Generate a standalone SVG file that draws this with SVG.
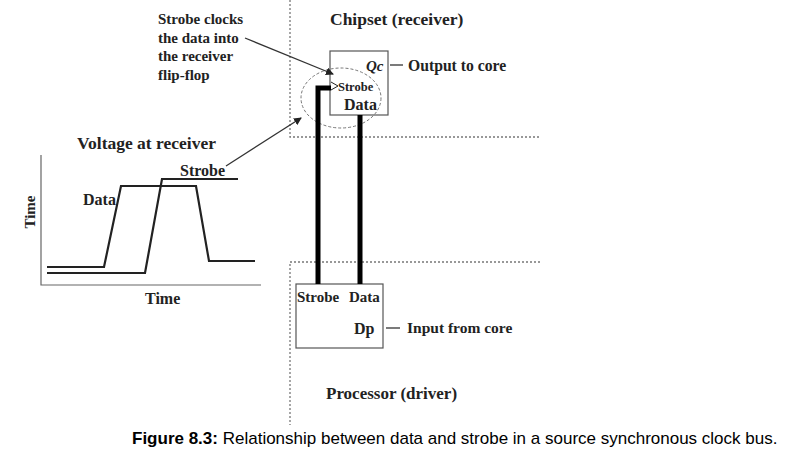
<svg xmlns="http://www.w3.org/2000/svg" width="792" height="452" viewBox="0 0 792 452">
<style>
.t{font-family:"Liberation Serif","Times New Roman",serif;font-weight:bold;fill:#222}
.dot{stroke:#777;stroke-width:1.3;stroke-dasharray:2,2;fill:none}
.ln{stroke:#333;stroke-width:1.3;fill:none}
.wave{stroke:#222;stroke-width:2.2;fill:none}
.thick{stroke:#000;stroke-width:5;fill:none}
.box{fill:#fff;stroke:#555;stroke-width:1.2}
.cap{font-family:"Liberation Sans",Arial,sans-serif;font-size:17px;fill:#000}
</style>
<defs>
<marker id="ah" markerWidth="8" markerHeight="8" refX="7" refY="4" orient="auto" markerUnits="userSpaceOnUse">
<path d="M0,0 L8,4 L0,8 z" fill="#222"/>
</marker>
</defs>
<rect width="792" height="452" fill="#fff"/>
<g id="regions">
<path class="dot" d="M290,0 V137 H540"/>
<path class="dot" d="M540,262 H290 V425"/>
</g>
<g id="chipset">
<text class="t" x="330" y="25" font-size="17.5">Chipset (receiver)</text>
<rect class="box" x="330" y="51" width="58" height="64"/>
<text class="t" x="366" y="71" font-size="15" font-style="italic">Qc</text>
<text class="t" x="338" y="91" font-size="12.5">Strobe</text>
<text class="t" x="344" y="110" font-size="16">Data</text>
<path d="M331,82 L338,86 L331,90" fill="none" stroke="#222" stroke-width="1"/>
<line class="ln" x1="390" y1="65" x2="403" y2="65"/>
<text class="t" x="408" y="71" font-size="15.7">Output to core</text>
<ellipse cx="341" cy="98" rx="40" ry="30" fill="none" stroke="#777" stroke-width="1" stroke-dasharray="3,2"/>
</g>
<g id="processor">
<rect class="box" x="296" y="284" width="87" height="64"/>
<text class="t" x="297" y="302" font-size="15">Strobe</text>
<text class="t" x="349" y="302" font-size="15">Data</text>
<text class="t" x="354" y="334" font-size="16">Dp</text>
<line class="ln" x1="386" y1="328" x2="400" y2="328"/>
<text class="t" x="407" y="333" font-size="15.5">Input from core</text>
<text class="t" x="326" y="399" font-size="17">Processor (driver)</text>
</g>
<g id="note">
<text class="t" font-size="15"><tspan x="158" y="24">Strobe clocks</tspan><tspan x="158" y="43">the data into</tspan><tspan x="158" y="61">the receiver</tspan><tspan x="158" y="80">flip-flop</tspan></text>
</g>
<g id="plot">
<text class="t" x="77" y="149" font-size="17.5">Voltage at receiver</text>
<path d="M41,155 V285 H261" fill="none" stroke="#666" stroke-width="1.2"/>
<text class="t" x="35" y="212" font-size="15" text-anchor="middle" transform="rotate(-90 35 212)">Time</text>
<text class="t" x="145" y="304" font-size="16">Time</text>
<path class="wave" d="M47,267 H104 L121,186 H196 L209,261 H255"/>
<path class="wave" d="M47,273 H145 L162,179 H238"/>
<text class="t" x="83" y="205" font-size="16">Data</text>
<text class="t" x="180" y="176" font-size="16">Strobe</text>
</g>
<g id="connectors">
<path class="thick" d="M318,284 V88 H331"/>
<path class="thick" d="M360,115 V284"/>
<line class="ln" x1="245" y1="38" x2="333" y2="74" marker-end="url(#ah)"/>
<line class="ln" x1="226" y1="166" x2="301" y2="118" marker-end="url(#ah)"/>
</g>
<text class="cap" x="132" y="444"><tspan font-weight="bold">Figure 8.3:</tspan> Relationship between data and strobe in a source synchronous clock bus.</text>
</svg>
